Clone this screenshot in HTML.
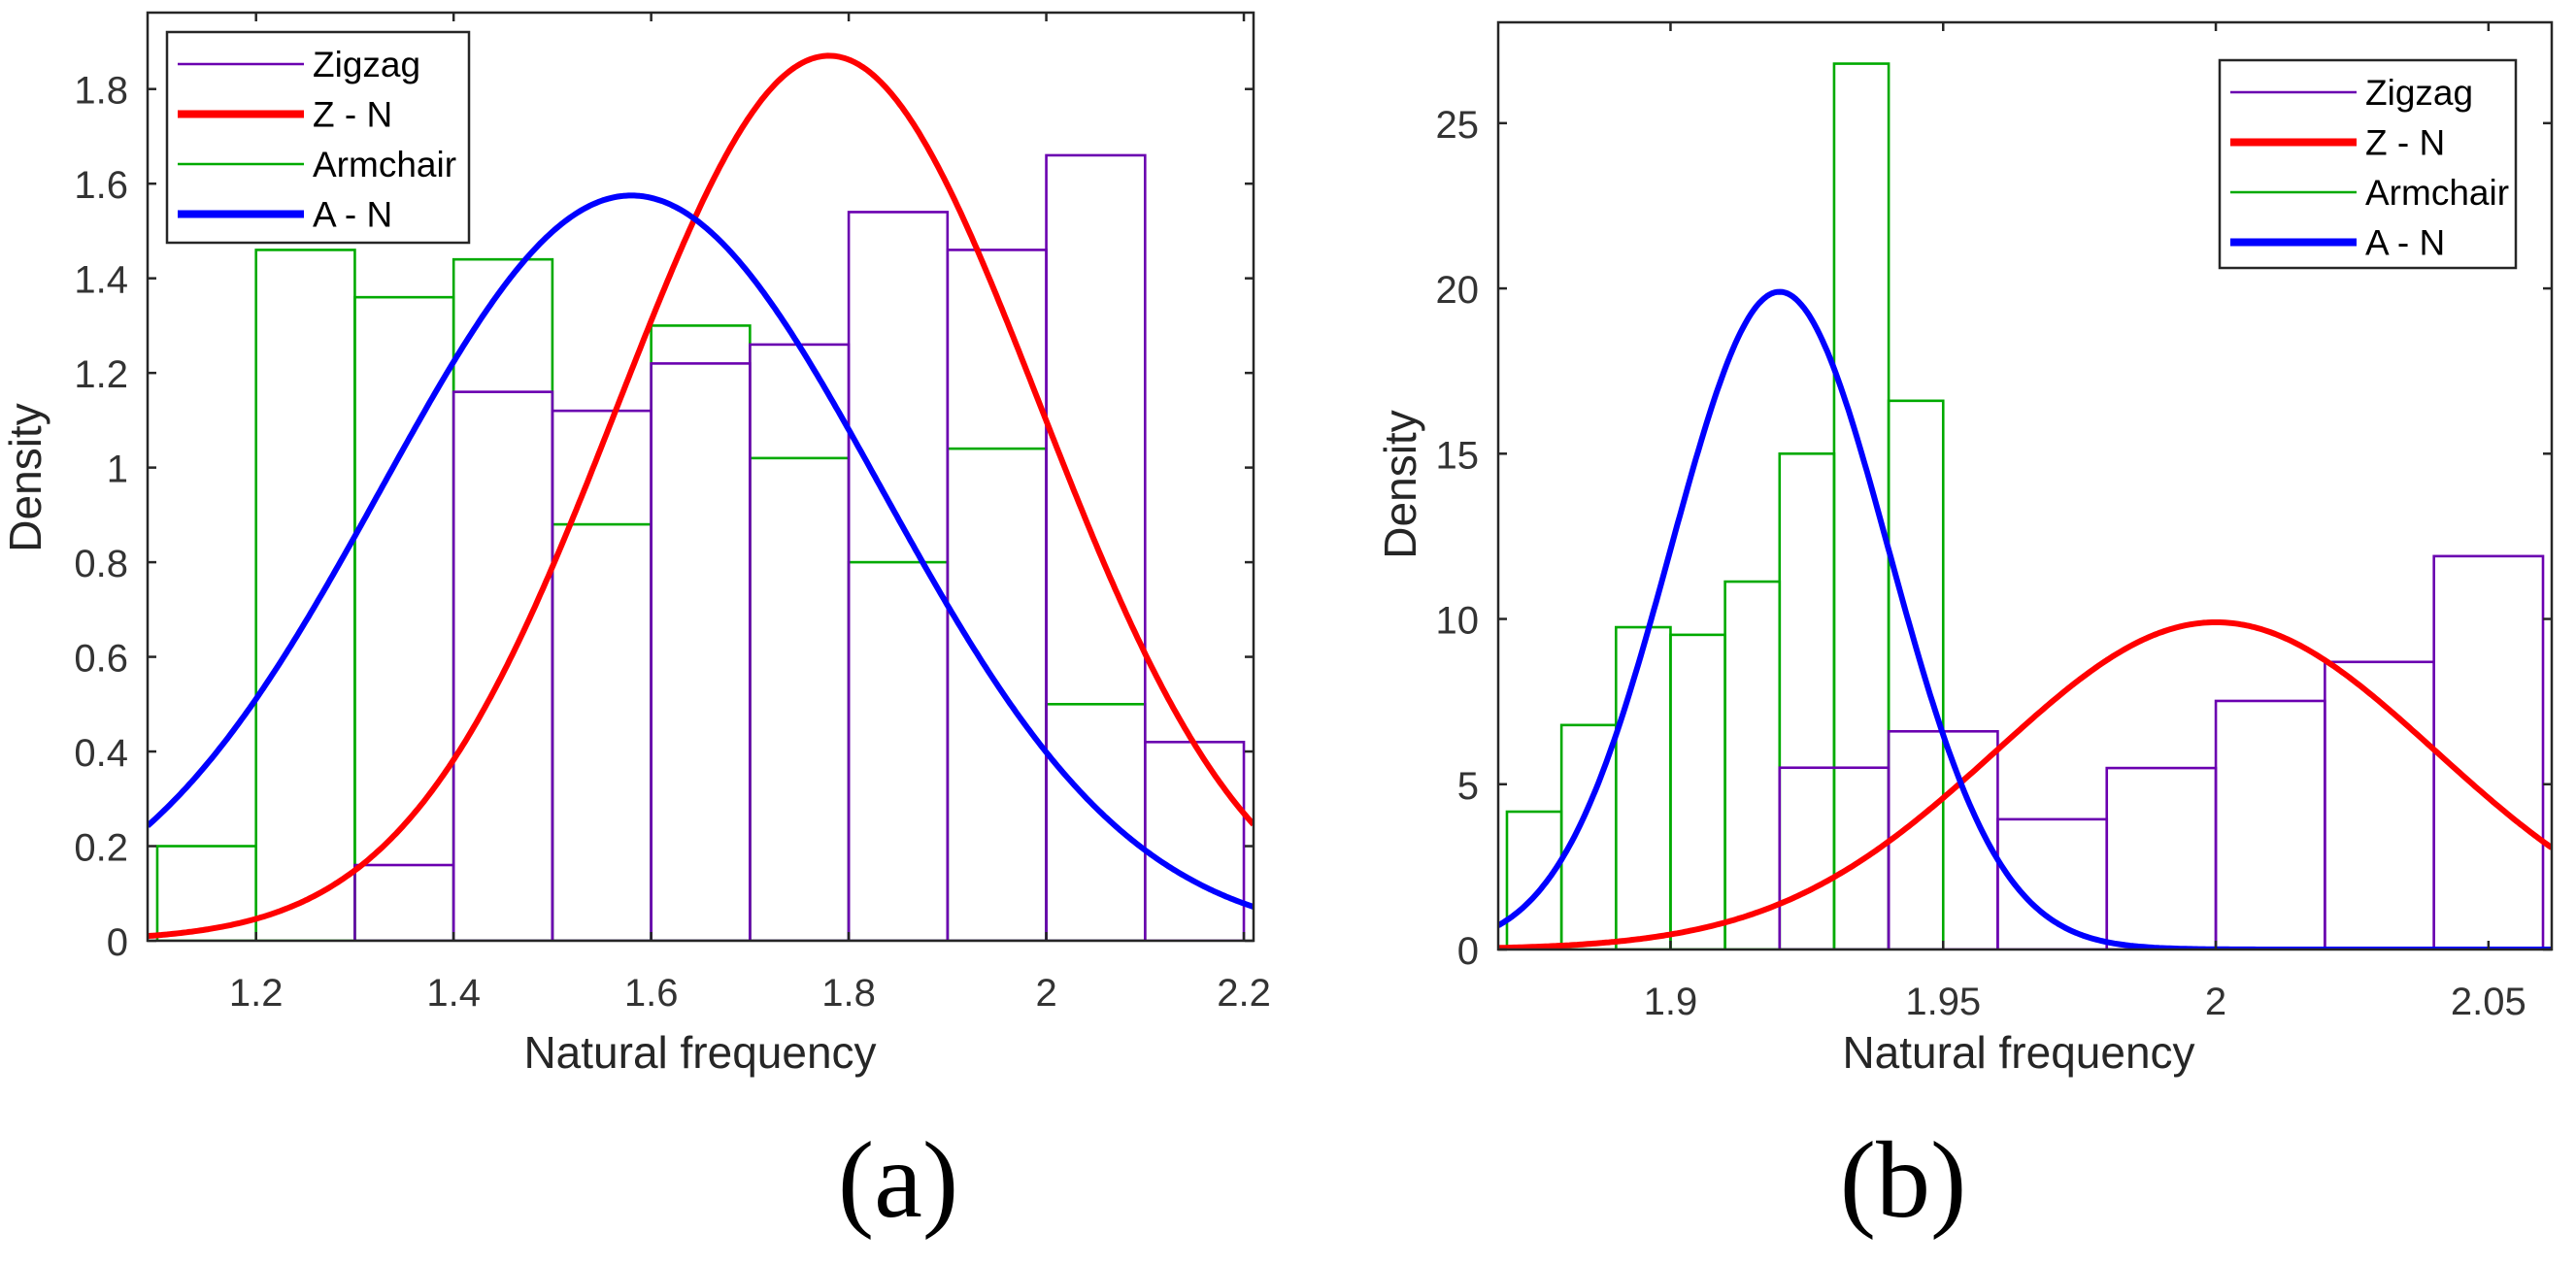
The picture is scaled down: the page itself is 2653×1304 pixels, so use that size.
<!DOCTYPE html>
<html><head><meta charset="utf-8"><style>
html,body{margin:0;padding:0;background:#fff;}
svg{display:block;}
text{font-family:"Liberation Sans",sans-serif;}
text.serif{font-family:"Liberation Serif",serif;}
</style></head><body>
<svg id="fig" width="2653" height="1304" viewBox="0 0 2653 1304" xmlns="http://www.w3.org/2000/svg">
<rect x="0" y="0" width="2653" height="1304" fill="#fff"/>
</svg>
<script>
// ---------- Panel (a) data ----------
const aEdges = [1.1,1.2,1.3,1.4,1.5,1.6,1.7,1.8,1.9,2.0,2.1,2.2];
const aZigzag = [0,0,0.16,1.16,1.12,1.22,1.26,1.54,1.46,1.66,0.42];
const aArmchair = [0.2,1.46,1.36,1.44,0.88,1.30,1.02,0.80,1.04,0.50,0];
const aZN = [1.78,0.2133];   // mean, sigma
const aAN = [1.58,0.2533];
const aXTicks = [1.2,1.4,1.6,1.8,2.0,2.2];
const aXTickLabels = ["1.2","1.4","1.6","1.8","2","2.2"];
const aYTicks = [0,0.2,0.4,0.6,0.8,1.0,1.2,1.4,1.6,1.8];
const aYTickLabels = ["0","0.2","0.4","0.6","0.8","1","1.2","1.4","1.6","1.8"];
// ---------- Panel (b) data ----------
const bZEdges = [1.92,1.94,1.96,1.98,2.00,2.02,2.04,2.06];
const bZigzag = [5.5,6.6,3.94,5.49,7.52,8.7,11.9];
const bAEdges = [1.87,1.88,1.89,1.90,1.91,1.92,1.93,1.94,1.95];
const bArmchair = [4.17,6.79,9.75,9.52,11.13,15.0,26.8,16.6];
const bZN = [2.0,0.0403];
const bAN = [1.92,0.02005];
const bXTicks = [1.9,1.95,2.0,2.05];
const bXTickLabels = ["1.9","1.95","2","2.05"];
const bYTicks = [0,5,10,15,20,25];
const bYTickLabels = ["0","5","10","15","20","25"];

const NS="http://www.w3.org/2000/svg";
const svg=document.getElementById('fig');
function mk(tag,attrs,parent){const e=document.createElementNS(NS,tag);for(const k in attrs)e.setAttribute(k,attrs[k]);(parent||svg).appendChild(e);return e;}

const PURPLE="#6a00b0",GREEN="#00aa00",RED="#ff0000",BLUE="#0000ff",AX="#262626";

function panel(cfg){
  const g=mk('g',{});
  
  
  const X=v=>cfg.L+(v-cfg.xmin)/(cfg.xmax-cfg.xmin)*(cfg.R-cfg.L);
  const Y=v=>cfg.B-(v-cfg.ymin)/(cfg.ymax-cfg.ymin)*(cfg.B-cfg.T);
  const cid='clip'+cfg.id;
  const cp=mk('clipPath',{id:cid},g);
  mk('rect',{x:cfg.L,y:cfg.T,width:cfg.R-cfg.L,height:cfg.B-cfg.T},cp);
  const plot=mk('g',{'clip-path':'url(#'+cid+')'},g);
  function hist(edges,vals,color,nm){
    for(let i=0;i<vals.length;i++){
      if(vals[i]<=0)continue;
      const r=mk('rect',{x:X(edges[i]),y:Y(vals[i]),width:X(edges[i+1])-X(edges[i]),height:Y(0)-Y(vals[i]),fill:'none',stroke:color,'stroke-width':2.6},plot);
      
      
    }
  }
  hist(cfg.aEdges,cfg.arm,GREEN,'armchair');
  hist(cfg.zEdges,cfg.zig,PURPLE,'zigzag');
  function curve(p,color,nm){
    const mu=p[0],s=p[1];let d='';
    const n=400;
    for(let i=0;i<=n;i++){
      const x=cfg.xmin+(cfg.xmax-cfg.xmin)*i/n;
      const y=Math.exp(-0.5*((x-mu)/s)**2)/(s*Math.sqrt(2*Math.PI));
      d+=(i?'L':'M')+X(x).toFixed(1)+' '+Y(y).toFixed(1);
    }
    const pth=mk('path',{d:d,fill:'none',stroke:color,'stroke-width':6,'stroke-linejoin':'round'},plot);
    
    
  }
  curve(cfg.zn,RED,'z-n-curve');
  curve(cfg.an,BLUE,'a-n-curve');
  const box=mk('rect',{x:cfg.L,y:cfg.T,width:cfg.R-cfg.L,height:cfg.B-cfg.T,fill:'none',stroke:AX,'stroke-width':2.5},g);
  
  
  const tl=9;
  cfg.xt.forEach((v,i)=>{
    const x=X(v);
    mk('line',{x1:x,y1:cfg.B,x2:x,y2:cfg.B-tl,stroke:AX,'stroke-width':2.5},g);
    mk('line',{x1:x,y1:cfg.T,x2:x,y2:cfg.T+tl,stroke:AX,'stroke-width':2.5},g);
    const t=mk('text',{x:x,y:cfg.B+67,'text-anchor':'middle','font-size':40,fill:'#333'},g);
    t.textContent=cfg.xtl[i];
    
    
  });
  cfg.yt.forEach((v,i)=>{
    const y=Y(v);
    mk('line',{x1:cfg.L,y1:y,x2:cfg.L+tl,y2:y,stroke:AX,'stroke-width':2.5},g);
    mk('line',{x1:cfg.R,y1:y,x2:cfg.R-tl,y2:y,stroke:AX,'stroke-width':2.5},g);
    const t=mk('text',{x:cfg.L-20,y:y+15,'text-anchor':'end','font-size':40,fill:'#333'},g);
    t.textContent=cfg.ytl[i];
    
    
  });
  const xl=mk('text',{x:cfg.xlx,y:1100,'text-anchor':'middle','font-size':46,fill:'#262626'},g);
  xl.textContent='Natural frequency';
  
  
  const yl=mk('text',{x:0,y:0,'text-anchor':'middle','font-size':46,fill:'#262626',transform:'translate('+cfg.ylx+','+cfg.yly+') rotate(-90)'},g);
  yl.textContent='Density';
  
  
  const lg=mk('g',{},g);
  
  
  mk('rect',{x:cfg.lg[0],y:cfg.lg[1],width:cfg.lg[2],height:cfg.lg[3],fill:'#fff',stroke:AX,'stroke-width':2.5},lg);
  const entries=[['Zigzag',PURPLE,2.5],['Z - N',RED,8],['Armchair',GREEN,2.5],['A - N',BLUE,8]];
  entries.forEach((e,i)=>{
    const ey=cfg.lg[1]+33+i*51.5;
    const ge=mk('g',{},lg);
    
    
    mk('line',{x1:cfg.lg[0]+11,y1:ey,x2:cfg.lg[0]+141,y2:ey,stroke:e[1],'stroke-width':e[2]},ge);
    const t=mk('text',{x:cfg.lg[0]+150,y:ey+13,'font-size':37,fill:'#000'},ge);
    t.textContent=e[0];
  });
  const pl=mk('text',{x:cfg.plx,y:1253,'text-anchor':'middle','font-size':112,fill:'#000','class':'serif',style:'font-family:"Liberation Serif",serif'},g);
  pl.textContent=cfg.label;
  
  
}

panel({id:'a',name:'panel-a',L:152,R:1291,T:13,B:969,xmin:1.0902,xmax:2.2098,ymin:0,ymax:1.9615,
  aEdges:aEdges,arm:aArmchair,zEdges:aEdges,zig:aZigzag,zn:aZN,an:aAN,
  xt:aXTicks,xtl:aXTickLabels,yt:aYTicks,ytl:aYTickLabels,
  xlx:721,ylx:42,yly:492,lg:[172,33,311,217],plx:925,label:'(a)'});
panel({id:'b',name:'panel-b',L:1543,R:2628,T:23,B:978,xmin:1.8684,xmax:2.0616,ymin:0,ymax:28.05,
  aEdges:bAEdges,arm:bArmchair,zEdges:bZEdges,zig:bZigzag,zn:bZN,an:bAN,
  xt:bXTicks,xtl:bXTickLabels,yt:bYTicks,ytl:bYTickLabels,
  xlx:2079,ylx:1458,yly:499,lg:[2286,62,305,214],plx:1960,label:'(b)'});
</script>
</body></html>
